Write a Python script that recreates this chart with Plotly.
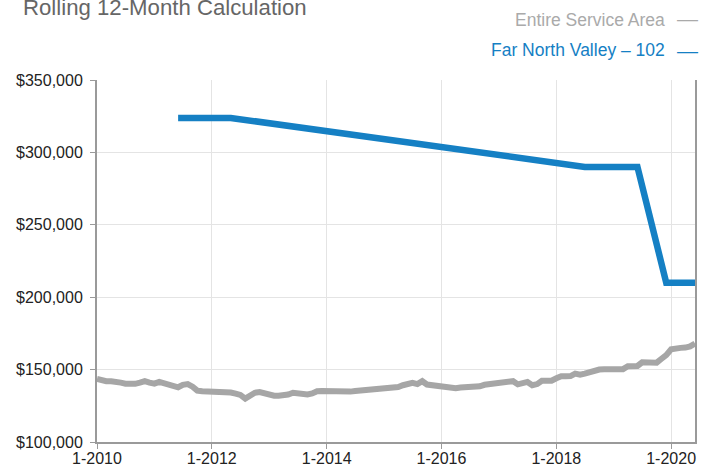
import plotly.graph_objects as go
import pandas as pd

# ---- data ----
service_start = "2010-01-01"
service_values = [
    143.5, 142.5, 142.0, 142.0, 142.0, 141.0, 140.3, 140.0, 140.2, 141.0,
    142.0, 141.0, 140.3, 141.5, 140.5, 139.5, 138.5, 137.8, 139.5, 140.0,
    138.2, 135.5, 135.0, 135.0, 135.0, 134.8, 134.0, 134.5, 134.2, 133.4,
    132.5, 130.0, 132.5, 134.0, 134.5, 133.5, 132.0, 132.0, 132.0, 132.0,
    132.8, 134.0, 133.5, 133.0, 132.8, 133.5, 135.0, 135.2, 135.0, 135.0,
    135.0, 135.0, 135.0, 134.8, 135.2, 135.5, 135.8, 136.0, 136.0, 136.0,
    136.2, 136.5, 136.8, 138.0, 139.2, 140.0, 140.8, 140.0, 142.0, 139.7,
    139.2, 139.0, 138.0, 137.6, 137.0, 137.2, 137.7, 137.8, 137.6, 137.6,
    138.5, 139.5, 140.0, 140.3, 140.6, 141.0, 141.5, 142.0, 139.8, 141.0,
    141.5, 139.2, 140.0, 142.3, 142.4, 142.3, 144.0, 145.4, 145.4, 145.5,
    147.2, 146.5, 147.2, 148.3, 149.2, 150.0, 150.2, 150.3, 150.3, 150.3,
    150.3, 152.3, 152.3, 152.5, 155.0, 155.2, 155.3, 154.8, 157.5, 160.0,
    164.0, 165.0, 165.0, 165.2, 166.0, 168.0,
]  # thousands of dollars
service_dates = pd.date_range(service_start, periods=len(service_values), freq="MS")

fnv_dates = ["2011-06-01", "2012-05-01", "2018-07-01", "2019-06-01", "2019-12-01", "2020-06-01"]
fnv_values = [323.8, 323.8, 290.0, 290.0, 210.0, 210.0]  # thousands of dollars

x_tick_vals = ["2010-01-01", "2012-01-01", "2014-01-01", "2016-01-01", "2018-01-01", "2020-01-01"]
x_tick_text = ["1-2010", "1-2012", "1-2014", "1-2016", "1-2018", "1-2020"]
y_tick_vals = [100000, 150000, 200000, 250000, 300000, 350000]
y_tick_text = ["$100,000", "$150,000", "$200,000", "$250,000", "$300,000", "$350,000"]

title_text = "Rolling 12-Month Calculation"
service_name = "Entire Service Area"
fnv_name = "Far North Valley – 102"

GRAY = "#a6a6a6"
BLUE = "#1580c4"
SANS = "Liberation Sans, Arial, Helvetica, sans-serif"

fig = go.Figure()
fig.add_trace(go.Scatter(
    x=service_dates, y=[v * 1000 for v in service_values], mode="lines",
    line=dict(color=GRAY, width=6), name=service_name, showlegend=False,
))
fig.add_trace(go.Scatter(
    x=fnv_dates, y=[v * 1000 for v in fnv_values], mode="lines",
    line=dict(color=BLUE, width=6.5), name=fnv_name, showlegend=False,
))

L, R, T, B = 97, 16, 80, 26
W, H = 711, 468
pw, ph = W - L - R, H - T - B

def px(xp):
    return (xp - L) / pw

def py(yp):
    return (H - B - yp) / ph

fig.update_layout(
    width=W, height=H,
    margin=dict(l=L, r=R, t=T, b=B, autoexpand=False),
    paper_bgcolor="white", plot_bgcolor="white",
    font=dict(family=SANS, color="#222"),
    xaxis=dict(
        range=["2010-01-01", "2020-06-01"], tickvals=x_tick_vals, ticktext=x_tick_text,
        showgrid=True, gridcolor="#e4e4e4", gridwidth=1, automargin=False,
        showline=True, linecolor="#9a9a9a", linewidth=2,
        ticks="outside", ticklen=5, tickcolor="#9a9a9a", tickwidth=1,
        ticklabelstandoff=-4,
        tickfont=dict(size=16, color="#222"), zeroline=False,
    ),
    yaxis=dict(
        range=[100000, 350000], tickvals=y_tick_vals, ticktext=y_tick_text,
        showgrid=True, gridcolor="#e4e4e4", gridwidth=1, automargin=False,
        showline=True, linecolor="#9a9a9a", linewidth=2, mirror=True,
        ticks="outside", ticklen=5, tickcolor="#9a9a9a", tickwidth=1,
        ticklabelstandoff=4,
        tickfont=dict(size=16, color="#222"), zeroline=False,
    ),
    annotations=[
        dict(text=title_text, xref="paper", yref="paper", x=px(21), y=py(7.5),
             xanchor="left", yanchor="middle", showarrow=False,
             font=dict(family=SANS, size=22.2, color="#666666")),
        dict(text=service_name, xref="paper", yref="paper", x=px(667), y=py(20),
             xanchor="right", yanchor="middle", showarrow=False,
             font=dict(family=SANS, size=17.5, color="#aaaaaa")),
        dict(text="—", xref="paper", yref="paper", x=px(687.5), y=py(18),
             xanchor="center", yanchor="middle", showarrow=False,
             font=dict(family=SANS, size=21, color="#aaaaaa")),
        dict(text=fnv_name, xref="paper", yref="paper", x=px(667), y=py(50),
             xanchor="right", yanchor="middle", showarrow=False,
             font=dict(family=SANS, size=17.5, color=BLUE)),
        dict(text="—", xref="paper", yref="paper", x=px(687.5), y=py(50),
             xanchor="center", yanchor="middle", showarrow=False,
             font=dict(family=SANS, size=21, color=BLUE)),
    ],
)

fig.write_html("out.html", config={"displayModeBar": False},
               post_script="document.body.style.margin='0';")
